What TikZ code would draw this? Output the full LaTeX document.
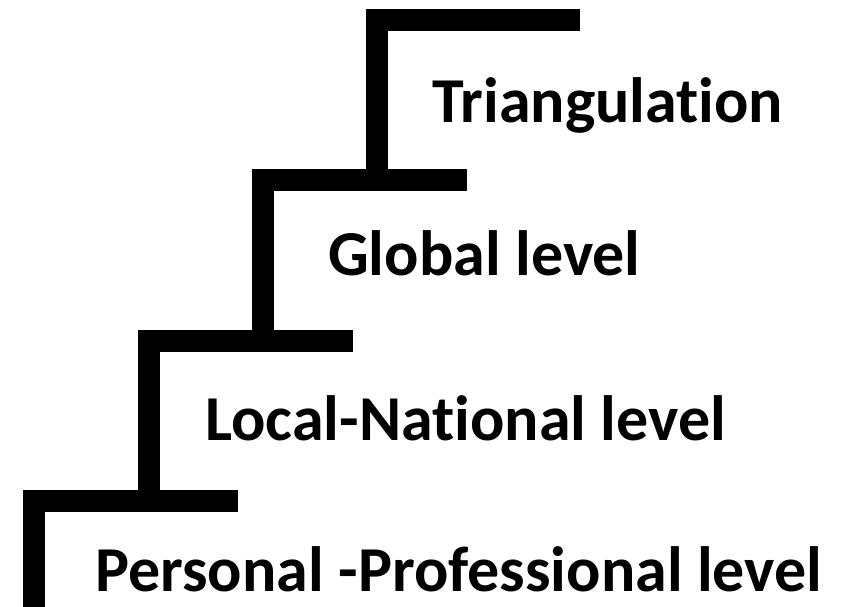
\documentclass[tikz,border=0pt]{standalone}
\usepackage{fontspec}
\setmainfont{Carlito}[Ligatures=NoCommon]
\begin{document}
\begin{tikzpicture}[x=1pt,y=-1pt,
                stair/.style={line width=22pt,line join=miter,line cap=butt},
                lvl/.style={anchor=base west,inner sep=0pt,font=\fontsize{64}{70}\selectfont\bfseries}]
                \useasboundingbox (0,0) rectangle (846,606);
                % corners of the steps
                \coordinate (s0) at (34,612);
                \coordinate (s1) at (34,501);
                \coordinate (e1) at (238,501);
                \coordinate (s2) at (149,341);
                \coordinate (e2) at (353,341);
                \coordinate (s3) at (262.5,180);
                \coordinate (e3) at (467,180);
                \coordinate (s4) at (376.5,19.5);
                \coordinate (e4) at (580,19.5);
                \begin{scope}[shift={(2,2)}]
                \draw[stair,black!30] (s0) -- (s1) -- (e1);
                \draw[stair,black!30] (s2 |- s1) -- (s2) -- (e2);
                \draw[stair,black!30] (s3 |- s2) -- (s3) -- (e3);
                \draw[stair,black!30] (s4 |- s3) -- (s4) -- (e4);
                \end{scope}
                \draw[stair] (s0) -- (s1) -- (e1);
                \draw[stair] (s2 |- s1) -- (s2) -- (e2);
                \draw[stair] (s3 |- s2) -- (s3) -- (e3);
                \draw[stair] (s4 |- s3) -- (s4) -- (e4);
                % levels
                \node[lvl] (tri) at (432,122) {Triangulation};
                \node[lvl] (glob) at (328,275) {Global level};
                \node[lvl] (loc) at (205,440) {Local-National level};
                \node[lvl] (pers) at (95,591) {Personal -Professional level};
\end{tikzpicture}
\end{document}
